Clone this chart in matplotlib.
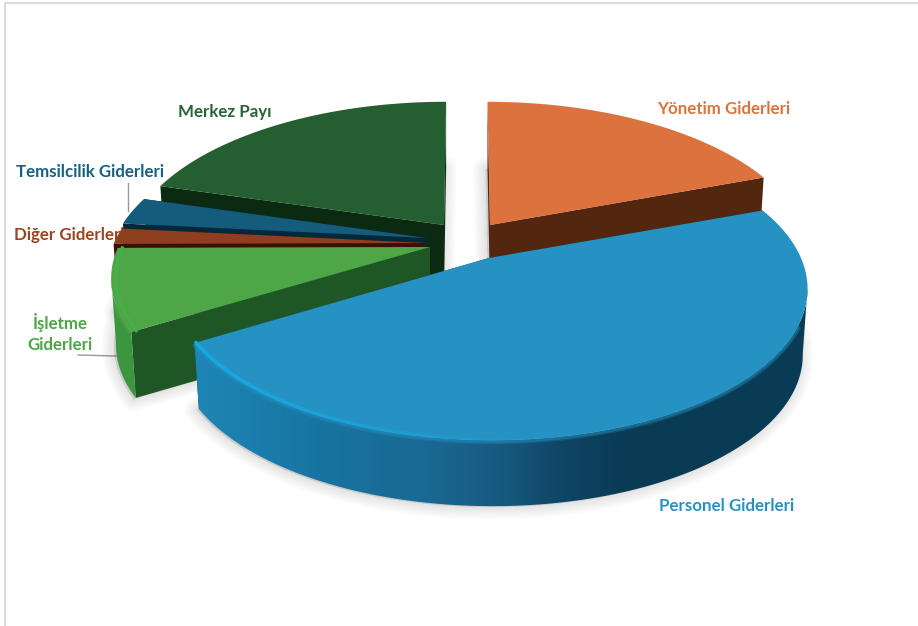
import matplotlib
matplotlib.use('Agg')
import matplotlib.pyplot as plt
from matplotlib.collections import LineCollection
from matplotlib.colors import LinearSegmentedColormap
from matplotlib.patches import PathPatch
from matplotlib.path import Path
import numpy as np

# Shares, clockwise from 12 o'clock
labels = ['Yönetim Giderleri', 'Personel Giderleri', 'İşletme\nGiderleri',
          'Diğer Giderleri', 'Temsilcilik Giderleri', 'Merkez Payı']
values = [19.4, 46.9, 8.6, 1.7, 2.9, 20.5]

# Styles per slice, same order as labels
top_colors = ['#DC733E', '#2692C4', '#4EA647', '#8E3F1F', '#155B7C', '#255E30']
wall_colors = ['#532610', '#0A3B55', '#1F5625', '#3A0F05', '#04283A', '#0B2A12']
side_colors = ['#532610', '#0A3B55', '#3C963F', '#3A0F05', '#104A66', '#0B2A12']
text_colors = ['#DC733E', '#2692C4', '#4DA647', '#9A4522', '#17607F', '#2A6434']
apex_x = [490, 489, 430, 426, 427, 444]
apex_y = [225, 258, 247, 243, 238, 225]
label_pos = [(724, 109), (727, 506), (60, 333), (69, 235), (90, 172), (225, 112)]
draw_order = [5, 0, 4, 3, 2, 1]

# Projection of the tilted pie onto the picture, in pixels
A, B, K, DEPTH = 312.0, 147.0, 0.193, 66.0
CX = 465.0

edges = np.concatenate([[0], np.cumsum(values)]) / np.sum(values) * 360

# Only this part of the rim faces the viewer
front_start = np.degrees(np.arccos(-K))
front_end = 360 - front_start


def project(theta, r, z, ax0, ay0):
    theta = np.radians(np.asarray(theta, dtype=float))
    u = r * np.sin(theta)
    v = r * np.cos(theta)
    w = 1 + K * v
    x = ax0 + (1 - 0.015 * z) * A * u / w - (ax0 - CX) * 0.12 * v / w
    y = ay0 - B * v / w + z * DEPTH
    return x, y


def arc(t1, t2, i, z=0.0, r=1.0):
    t = np.linspace(t1, t2, 160)
    return project(t, r, z, apex_x[i], apex_y[i])


def top_poly(i, z=0.0):
    x, y = arc(edges[i], edges[i + 1], i, z)
    return np.r_[apex_x[i], x], np.r_[apex_y[i] + z * DEPTH, y]


def side_poly(i):
    t1 = max(edges[i], front_start)
    t2 = min(edges[i + 1], front_end)
    x1, y1 = arc(t1, t2, i, 0)
    x2, y2 = arc(t1, t2, i, 1)
    return np.r_[x1, x2[::-1]], np.r_[y1, y2[::-1]]


def wall_poly(i, t):
    x1, y1 = project(t, 1, 0, apex_x[i], apex_y[i])
    x2, y2 = project(t, 1, 1, apex_x[i], apex_y[i])
    a, b = apex_x[i], apex_y[i]
    return [a, x1, x2, a], [b, y1, y2, b + DEPTH]


fig = plt.figure(figsize=(9.18, 6.26), dpi=100)
ax = fig.add_axes([0, 0, 1, 1])
ax.axis('off')

# Frame of the chart area
ax.plot([5, 5, 918], [626, 3, 3], color='#D4D4D4', lw=1.2, zorder=1)

# Labels go under the pie, the reference clips "Diğer Giderleri" the same way
for i, name in enumerate(labels):
    ax.text(label_pos[i][0], label_pos[i][1], name, color=text_colors[i], ha='center', va='center',
            fontsize=12.2, fontweight='bold', family='Lato', linespacing=1.35, zorder=2)

# Leader lines
ax.plot([128, 128], [183, 211], color='#9A9A9A', lw=1, zorder=2)
ax.plot([78, 116], [355, 356], color='#9A9A9A', lw=1, zorder=2)

# Soft shadow under every slice
for lw in range(18, 0, -2):
    for i in range(len(values)):
        sx, sy = top_poly(i, 1.0)
        ax.fill(sx - 2, sy + 1, facecolor='black', edgecolor='black', alpha=0.012,
                lw=lw, joinstyle='round', zorder=3)

z = 4
cmap = LinearSegmentedColormap.from_list('blue_side', [
    (0.0, '#1E86B6'), (0.22, '#17739F'), (0.37, '#1A6A94'), (0.50, '#175A80'),
    (0.60, '#0F4565'), (0.70, '#0A3B55'), (1.0, '#0A3B55')])

for i in draw_order:
    wx, wy = wall_poly(i, edges[i])
    ax.fill(wx, wy, color=wall_colors[i], lw=0, zorder=z)
    wx, wy = wall_poly(i, edges[i + 1])
    ax.fill(wx, wy, color=wall_colors[i], lw=0, zorder=z)

    if i == 1:
        # Personel side runs from light on the left to dark on the right
        sx, sy = side_poly(i)
        patch = PathPatch(Path(np.c_[sx, sy]), fc='none', ec='none', zorder=z)
        ax.add_patch(patch)
        grad = np.linspace(0, 1, 400).reshape(1, -1)
        im = ax.imshow(grad, extent=[193, 808, 520, 200], cmap=cmap, aspect='auto',
                       interpolation='bilinear', zorder=z)
        im.set_clip_path(patch)
    elif i == 2:
        sx, sy = side_poly(i)
        ax.fill(sx, sy, color=side_colors[i], lw=0, zorder=z)

    # Soft edge where the front side meets the top
    if i in (1, 2):
        for lw, alpha in [(5, 0.25), (3, 0.4)]:
            lx, ly = arc(max(edges[i], 115), min(edges[i + 1], 248), i, 0.01)
            ax.plot(lx, ly, color=top_colors[i], lw=lw, alpha=alpha, zorder=z, solid_capstyle='butt')

    tx, ty = top_poly(i)
    ax.fill(tx, ty, color=top_colors[i], lw=0, zorder=z)
    z += 1

# Bright bevel on the front edges
t = np.linspace(edges[2], 170, 120)
bx, by = project(t, 0.995, 0, apex_x[1], apex_y[1])
pts = np.c_[bx, by].reshape(-1, 1, 2)
segs = np.concatenate([pts[:-1], pts[1:]], axis=1)
rim = np.zeros((len(segs), 4))
rim[:, :3] = matplotlib.colors.to_rgb('#17A8E0')
rim[:, 3] = np.linspace(1, 0, len(segs))
ax.add_collection(LineCollection(segs, colors=rim, linewidths=2.6, zorder=z, capstyle='round'))

gx, gy = arc(edges[2], edges[3], 2, 0, 0.985)
ax.plot(gx, gy, color='#47AE48', lw=2.4, zorder=z)

ax.set_xlim(0, 918)
ax.set_ylim(626, 0)
fig.savefig('out.png', dpi=100)
